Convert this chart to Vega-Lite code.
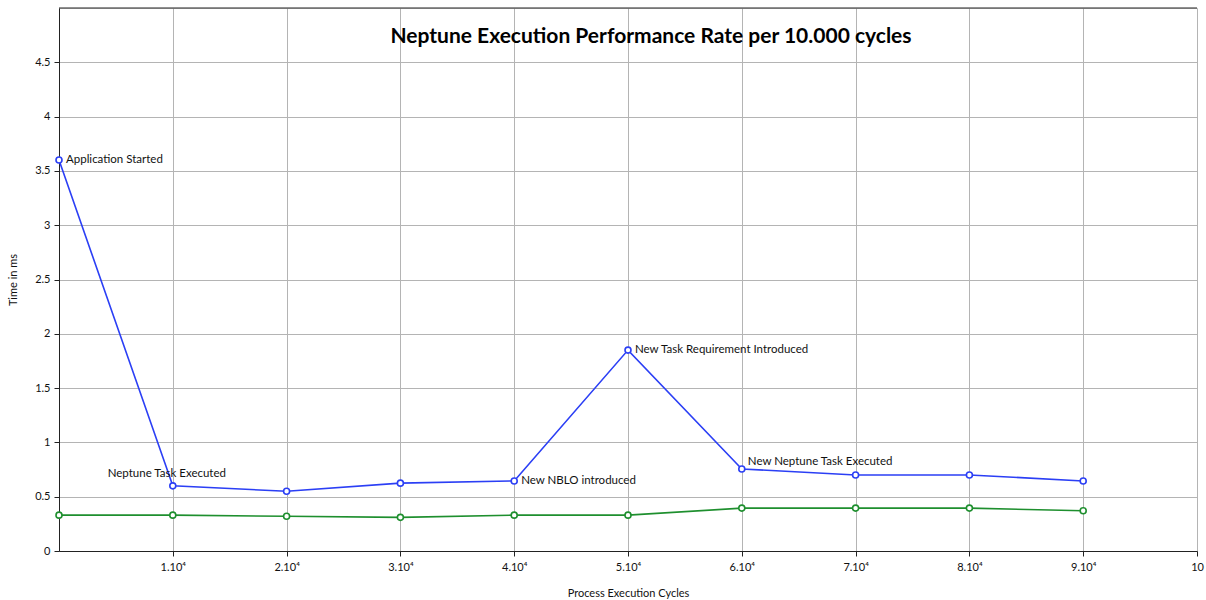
{
  "$schema": "https://vega.github.io/schema/vega-lite/v6.json",
  "autosize": {"type": "none"},
  "width": 1138,
  "height": 543,
  "padding": {"left": 59, "top": 8, "right": 9, "bottom": 49},
  "background": "white",
  "config": {
    "font": "Lato",
    "view": {"stroke": "#c8c8c8", "strokeWidth": 1},
    "axis": {"labelFont": "Lato", "titleFont": "Lato", "labelFontSize": 11, "titleFontSize": 11, "labelColor": "#111", "titleColor": "#111", "titleFontWeight": "normal", "domainColor": "#222", "tickColor": "#222", "gridColor": "#b4b4b4", "gridOpacity": 1, "gridWidth": 1}
  },
  "title": {"text": "Neptune Execution Performance Rate per 10.000 cycles", "font": "Lato", "fontSize": 21, "fontWeight": "bold", "color": "#000", "anchor": "middle", "dx": 23, "offset": -40},
  "datasets": {
    "series": [
      {"cycle": 0, "time": 3.6, "series": "Neptune"},
      {"cycle": 1, "time": 0.6, "series": "Neptune"},
      {"cycle": 2, "time": 0.55, "series": "Neptune"},
      {"cycle": 3, "time": 0.625, "series": "Neptune"},
      {"cycle": 4, "time": 0.645, "series": "Neptune"},
      {"cycle": 5, "time": 1.85, "series": "Neptune"},
      {"cycle": 6, "time": 0.755, "series": "Neptune"},
      {"cycle": 7, "time": 0.7, "series": "Neptune"},
      {"cycle": 8, "time": 0.7, "series": "Neptune"},
      {"cycle": 9, "time": 0.645, "series": "Neptune"},
      {"cycle": 0, "time": 0.33, "series": "Baseline"},
      {"cycle": 1, "time": 0.33, "series": "Baseline"},
      {"cycle": 2, "time": 0.32, "series": "Baseline"},
      {"cycle": 3, "time": 0.31, "series": "Baseline"},
      {"cycle": 4, "time": 0.33, "series": "Baseline"},
      {"cycle": 5, "time": 0.33, "series": "Baseline"},
      {"cycle": 6, "time": 0.395, "series": "Baseline"},
      {"cycle": 7, "time": 0.395, "series": "Baseline"},
      {"cycle": 8, "time": 0.395, "series": "Baseline"},
      {"cycle": 9, "time": 0.37, "series": "Baseline"}
    ],
    "notes": [
      {"cycle": 0, "time": 3.6, "label": "Application Started"},
      {"cycle": 1, "time": 0.6, "label": "Neptune Task Executed"},
      {"cycle": 4, "time": 0.645, "label": "New NBLO introduced"},
      {"cycle": 5, "time": 1.85, "label": "New Task Requirement Introduced"},
      {"cycle": 6, "time": 0.755, "label": "New Neptune Task Executed"}
    ],
    "border": [{"top": 5}]
  },
  "layer": [
    {
      "data": {"name": "series"},
      "mark": {"type": "line", "strokeWidth": 1.6, "clip": false},
      "encoding": {
        "x": {"field": "cycle", "type": "quantitative", "scale": {"domain": [0, 10], "nice": false, "zero": false},
          "axis": {"title": "Process Execution Cycles", "values": [1,2,3,4,5,6,7,8,9,10], "labelExpr": "datum.value == 10 ? '10' : datum.value + '.10⁴'", "grid": true, "tickSize": 5, "labelPadding": 5, "titlePadding": 15, "labelFlush": false}},
        "y": {"field": "time", "type": "quantitative", "scale": {"domain": [0, 5], "nice": false},
          "axis": {"title": "Time in ms", "values": [0,0.5,1,1.5,2,2.5,3,3.5,4,4.5], "labelExpr": "datum.value + ''", "grid": true, "tickSize": 5, "labelPadding": 4, "titlePadding": 16}},
        "color": {"field": "series", "type": "nominal", "scale": {"domain": ["Neptune", "Baseline"], "range": ["#2b3ff5", "#1e8f2e"]}, "legend": null}
      }
    },
    {
      "data": {"name": "series"},
      "mark": {"type": "point", "filled": true, "fill": "white", "size": 36, "strokeWidth": 1.6, "opacity": 1},
      "encoding": {
        "x": {"field": "cycle", "type": "quantitative"},
        "y": {"field": "time", "type": "quantitative"},
        "stroke": {"field": "series", "type": "nominal", "scale": {"domain": ["Neptune", "Baseline"], "range": ["#2b3ff5", "#1e8f2e"]}, "legend": null}
      }
    },
    {
      "data": {"name": "border"},
      "mark": {"type": "rule", "color": "#222", "strokeWidth": 1.2},
      "encoding": {"y": {"field": "top", "type": "quantitative"}}
    },
    {
      "data": {"name": "notes"},
      "transform": [{"filter": "datum.label != 'Neptune Task Executed' && datum.label != 'New Neptune Task Executed'"}],
      "mark": {"type": "text", "align": "left", "baseline": "middle", "dx": 7, "font": "Lato", "fontSize": 11.5, "color": "#111"},
      "encoding": {
        "x": {"field": "cycle", "type": "quantitative"},
        "y": {"field": "time", "type": "quantitative"},
        "text": {"field": "label"}
      }
    },
    {
      "data": {"name": "notes"},
      "transform": [{"filter": "datum.label == 'Neptune Task Executed'"}],
      "mark": {"type": "text", "align": "center", "baseline": "middle", "dx": -6, "dy": -12, "font": "Lato", "fontSize": 11.5, "color": "#111"},
      "encoding": {
        "x": {"field": "cycle", "type": "quantitative"},
        "y": {"field": "time", "type": "quantitative"},
        "text": {"field": "label"}
      }
    },
    {
      "data": {"name": "notes"},
      "transform": [{"filter": "datum.label == 'New Neptune Task Executed'"}],
      "mark": {"type": "text", "align": "left", "baseline": "middle", "dx": 6, "dy": -7, "font": "Lato", "fontSize": 11.5, "color": "#111"},
      "encoding": {
        "x": {"field": "cycle", "type": "quantitative"},
        "y": {"field": "time", "type": "quantitative"},
        "text": {"field": "label"}
      }
    }
  ]
}
